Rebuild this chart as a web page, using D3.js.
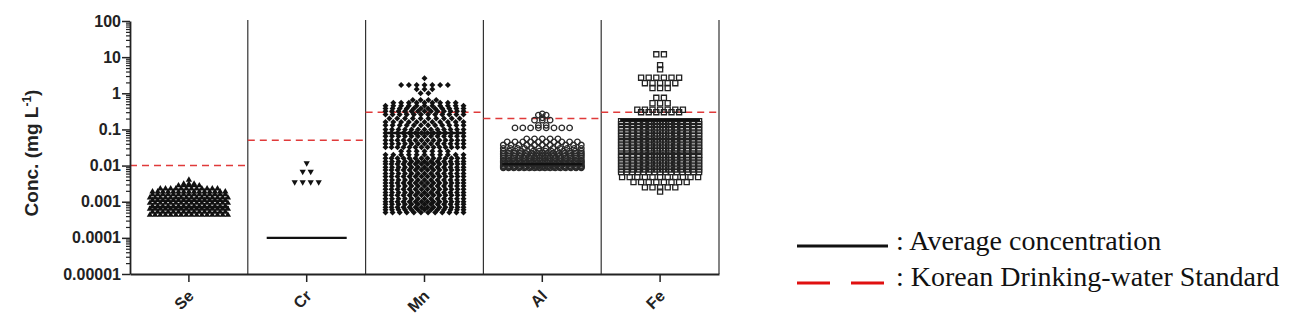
<!DOCTYPE html>
<html>
<head>
<meta charset="utf-8">
<script src="https://cdn.jsdelivr.net/npm/d3@7"></script>
<style>
  body { margin: 0; background: #fff; }
  svg { display: block; }
</style>
</head>
<body>
<div id="chart"></div>
<script>
// elements on x, drinking-water standards and average concentrations (mg/L)
const elements = ["Se", "Cr", "Mn", "Al", "Fe"]
const standards = [0.01, 0.05, 0.3, 0.2, 0.3]
const averages = [0.0007, 0.0001, 0.08, 0.011, 0.18]

const yTicks = [0.00001, 0.0001, 0.001, 0.01, 0.1, 1, 10, 100]
const yTickLabels = ["0.00001", "0.0001", "0.001", "0.01", "0.1", "1", "10", "100"]

// each row: [concentration, number of samples at that level]
const seRows = [
  [0.00043, 16], [0.00052, 15], [0.00063, 16], [0.00076, 15], [0.00092, 16],
  [0.0011, 15], [0.0013, 16], [0.0016, 15], [0.0019, 15], [0.0023, 12],
  [0.0028, 5], [0.0031, 3], [0.004, 1]
]
const crRows = [
  [0.0035, 4], [0.0068, 2], [0.0117, 1]
]
const mnRows = [
  [0.0005, 12], [0.0006, 13], [0.0007, 14], [0.00085, 13], [0.001, 14],
  [0.0012, 13], [0.0015, 14], [0.0018, 13], [0.0022, 14], [0.0027, 13],
  [0.0033, 14], [0.004, 13], [0.005, 14], [0.006, 13], [0.0075, 14],
  [0.009, 13], [0.011, 14], [0.013, 13], [0.016, 14], [0.02, 11],
  [0.025, 7], [0.032, 14], [0.04, 13], [0.05, 14], [0.065, 13],
  [0.08, 14], [0.1, 13], [0.13, 12], [0.16, 11], [0.2, 10],
  [0.26, 12], [0.32, 13], [0.38, 12], [0.45, 11], [0.55, 9],
  [0.65, 4], [1.0, 2], [1.3, 3], [1.7, 7], [2.6, 1]
]
const alRows = [
  [0.0086, 16], [0.009, 15], [0.0095, 16], [0.010, 15], [0.011, 16],
  [0.012, 15], [0.013, 16], [0.014, 15], [0.016, 16], [0.018, 15],
  [0.02, 14], [0.022, 15], [0.025, 14], [0.03, 12], [0.037, 11], [0.045, 10],
  [0.055, 5], [0.11, 8], [0.13, 2], [0.18, 3], [0.21, 1], [0.25, 2], [0.27, 1]
]
const feRows = [
  [0.0019, 1], [0.0025, 5], [0.0035, 8], [0.0048, 11], [0.0066, 15],
  [0.0078, 14], [0.0095, 15], [0.0115, 14], [0.014, 15], [0.017, 14],
  [0.02, 15], [0.025, 14], [0.03, 15], [0.036, 14], [0.044, 15],
  [0.053, 14], [0.065, 15], [0.078, 14], [0.095, 15], [0.115, 14],
  [0.14, 15], [0.17, 14], [0.3, 6], [0.35, 7], [0.53, 3], [0.75, 2],
  [1.4, 3], [1.9, 5], [2.7, 6], [4.6, 1], [6, 1], [12, 2]
]

const width = 1299
const height = 314

const svg = d3.select("#chart").append("svg")
  .attr("width", width)
  .attr("height", height)

const x = d3.scaleBand().domain(elements).range([130, 719]).padding(0)
const y = d3.scaleLog().domain([0.00001, 100]).range([274, 21])

// marker style per element
const markers = {
  Se: { type: d3.symbolTriangle, size: 17, fill: "#111", stroke: "none", rot: 0, sp: 5.2 },
  Cr: { type: d3.symbolTriangle, size: 17, fill: "#111", stroke: "none", rot: 180, sp: 8 },
  Mn: { type: d3.symbolSquare, size: 18, fill: "#111", stroke: "none", rot: 45, sp: 7.8 },
  Al: { type: d3.symbolCircle, size: 24, fill: "none", stroke: "#2a2a2a", rot: 0, sp: 7.8 },
  Fe: { type: d3.symbolSquare, size: 26, fill: "none", stroke: "#222", rot: 0, sp: 7.6 },
}
const rowsByEl = { Se: seRows, Cr: crRows, Mn: mnRows, Al: alRows, Fe: feRows }

// expand rows into points, centred in each column
const points = []
elements.forEach((el) => {
  const m = markers[el]
  const cx = x(el) + x.bandwidth() / 2
  rowsByEl[el].forEach(([v, n]) => {
    const s = n > 1 ? Math.min(m.sp, 78 / (n - 1)) : 0
    for (let i = 0; i < n; i++) {
      points.push({ el, v, px: cx + (i - (n - 1) / 2) * s })
    }
  })
})

const sans = "Liberation Sans, Arial, sans-serif"

// column dividers
svg.append("g")
  .selectAll("line")
  .data(elements)
  .join("line")
  .attr("x1", (d) => x(d) + x.bandwidth())
  .attr("x2", (d) => x(d) + x.bandwidth())
  .attr("y1", 20)
  .attr("y2", 274)
  .attr("stroke", "#333")
  .attr("stroke-width", 1.2)

// standards (red dashed)
svg.append("g")
  .selectAll("line")
  .data(elements)
  .join("line")
  .attr("x1", (d) => x(d))
  .attr("x2", (d) => x(d) + x.bandwidth())
  .attr("y1", (d, i) => y(standards[i]))
  .attr("y2", (d, i) => y(standards[i]))
  .attr("stroke", "#e03a3a")
  .attr("stroke-width", 1.6)
  .attr("stroke-dasharray", "7,5")

// dots
svg.append("g")
  .selectAll("path")
  .data(points)
  .join("path")
  .attr("d", (d) => d3.symbol(markers[d.el].type, markers[d.el].size)())
  .attr("transform", (d) => `translate(${d.px},${y(d.v)}) rotate(${markers[d.el].rot})`)
  .attr("fill", (d) => markers[d.el].fill)
  .attr("stroke", (d) => markers[d.el].stroke)
  .attr("stroke-width", 1.3)

// average lines
svg.append("g")
  .selectAll("line")
  .data(elements)
  .join("line")
  .attr("x1", (d) => x(d) + x.bandwidth() / 2 - 40)
  .attr("x2", (d) => x(d) + x.bandwidth() / 2 + 40)
  .attr("y1", (d, i) => y(averages[i]))
  .attr("y2", (d, i) => y(averages[i]))
  .attr("stroke", "#111")
  .attr("stroke-width", 2.4)

// y axis: minor ticks then labelled majors
const minor = y.ticks().filter((t) => !yTicks.some((m) => Math.abs(m - t) / m < 1e-6))
svg.append("g")
  .attr("transform", "translate(130,0)")
  .call(d3.axisLeft(y).tickValues(minor).tickSize(4).tickFormat(""))
  .call((g) => g.select(".domain").remove())
  .selectAll("line").attr("stroke", "#222").attr("stroke-width", 1.2)

svg.append("g")
  .attr("transform", "translate(130,0)")
  .call(d3.axisLeft(y).tickValues(yTicks).tickSize(8).tickSizeOuter(0)
    .tickFormat((d, i) => yTickLabels[i]))
  .call((g) => g.select(".domain").attr("stroke", "#222").attr("stroke-width", 1.8))
  .call((g) => g.selectAll("line").attr("stroke", "#222").attr("stroke-width", 1.5))
  .call((g) => g.selectAll("text")
    .attr("font-family", sans)
    .attr("font-weight", "bold")
    .attr("font-size", 16)
    .attr("fill", "#222")
    .attr("x", -9))

// x axis
svg.append("g")
  .attr("transform", "translate(0,274)")
  .call(d3.axisBottom(x).tickSize(8).tickSizeOuter(0))
  .call((g) => g.select(".domain").attr("stroke", "#222").attr("stroke-width", 1.8))
  .call((g) => g.selectAll("line").attr("stroke", "#222").attr("stroke-width", 1.5))
  .call((g) => g.selectAll("text")
    .attr("font-family", sans)
    .attr("font-weight", "bold")
    .attr("font-size", 16)
    .attr("fill", "#222")
    .attr("text-anchor", "end")
    .attr("y", 0)
    .attr("dy", "0.35em")
    .attr("transform", "translate(2,19) rotate(-45)"))

// y title
const title = svg.append("text")
  .attr("transform", "translate(38,153) rotate(-90)")
  .attr("text-anchor", "middle")
  .attr("font-family", sans)
  .attr("font-weight", "bold")
  .attr("font-size", 19)
  .attr("fill", "#222")
title.append("tspan").text("Conc. (mg L")
title.append("tspan").attr("font-size", 12).attr("dy", -7).text("-1")
title.append("tspan").attr("dy", 7).text(")")

// legend
const legend = svg.append("g")
legend.append("line")
  .attr("x1", 797).attr("x2", 888).attr("y1", 246).attr("y2", 246)
  .attr("stroke", "#111").attr("stroke-width", 3)
legend.append("line")
  .attr("x1", 797).attr("x2", 888).attr("y1", 283).attr("y2", 283)
  .attr("stroke", "#e01010").attr("stroke-width", 3)
  .attr("stroke-dasharray", "33,21")
legend.selectAll("text")
  .data([": Average concentration", ": Korean Drinking-water Standard"])
  .join("text")
  .attr("x", 896)
  .attr("y", (d, i) => 250 + i * 36)
  .attr("font-family", "Liberation Serif, Times New Roman, serif")
  .attr("font-size", 28)
  .attr("fill", "#111")
  .text((d) => d)
</script>
</body>
</html>
